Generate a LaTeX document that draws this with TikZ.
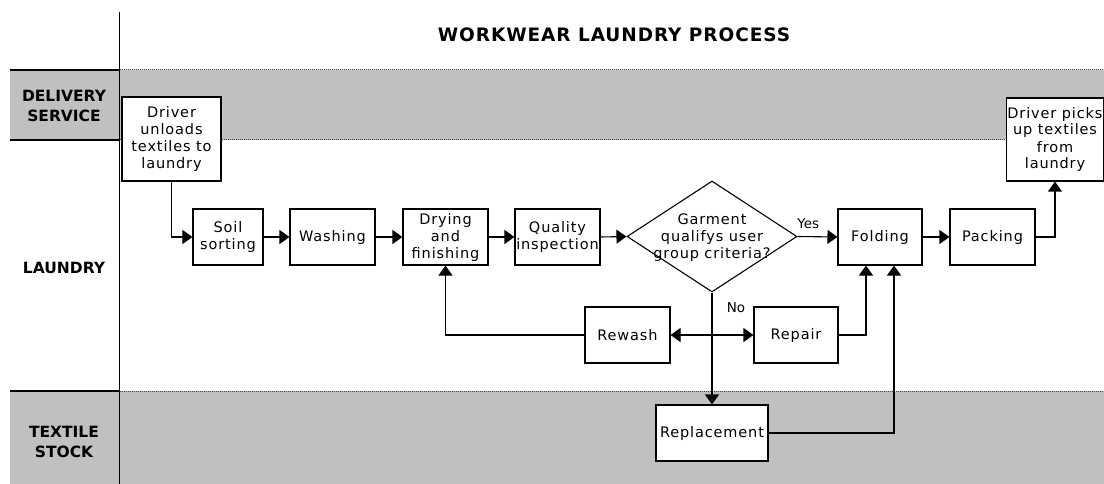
\documentclass[tikz,border=0pt]{standalone}
\usepackage{fontspec}
\setmainfont{DejaVu Sans}
\newfontfamily\bxf{DejaVu Sans}[LetterSpace=6]
\newfontfamily\ttlf{DejaVu Sans}[LetterSpace=5]
\usetikzlibrary{shapes.geometric,arrows.meta,calc}
\definecolor{bandgray}{HTML}{C0C0C0}
\begin{document}
\begin{tikzpicture}[x=1pt,y=-1pt,
  box/.style={draw, fill=white, line width=1.1pt, minimum width=85, minimum height=56,
    align=center, inner sep=0, font=\bxf\fontsize{14.5}{17}\selectfont},
  arr/.style={line width=1.1pt, -{Triangle[length=10pt,width=14pt]}},
  lanelabel/.style={align=center, font=\bfseries\fontsize{15.5}{19.5}\selectfont},
  solidline/.style={line width=1.2pt},
  dotline/.style={line width=1pt, black!75, dash pattern=on 1pt off 1pt},
  lbl/.style={font=\fontsize{13.5}{15}\selectfont, inner sep=1pt}]
\useasboundingbox (0,0) rectangle (1104,484);
% bands
\fill[bandgray] (10,70) rectangle (1104,140);
\fill[bandgray] (10,391) rectangle (1104,484);
\draw[solidline] (10,70) -- (119.5,70);
\draw[solidline] (10,140) -- (119.5,140);
\draw[solidline] (10,391) -- (119.5,391);
\draw[dotline] (119.5,70) -- (1104,70);
\draw[dotline] (119.5,140) -- (1104,140);
\draw[dotline] (119.5,391) -- (1104,391);
\draw[solidline] (119.5,12) -- (119.5,484);
% title and lane labels
\node[font=\bfseries\ttlf\fontsize{18.5}{22}\selectfont] (title) at (614,35) {WORKWEAR LAUNDRY PROCESS};
\node[lanelabel] (ldel) at (64,106) {DELIVERY\\SERVICE};
\node[lanelabel] (llau) at (64,268) {LAUNDRY};
\node[lanelabel] (ltex) at (64,442) {TEXTILE\\STOCK};
% process nodes
\node[box, minimum width=99, minimum height=84] (du) at (171.5,139) {Driver\\unloads\\textiles to\\laundry};
\node[box, minimum width=70] (ss) at (228,237) {Soil\\sorting};
\node[box] (wa) at (332.5,237) {Washing};
\node[box] (dr) at (445.5,237) {Drying\\and\\finishing};
\node[box] (qi) at (557.5,237) {Quality\\inspection};
\node[diamond, draw, fill=white, line width=1.1pt, minimum width=170, minimum height=111, inner sep=0] (dia) at (712,236.5) {};
\node[align=center, font=\bxf\fontsize{14.5}{17}\selectfont] (diat) at (712,238) {Garment\\qualifys user\\group criteria?};
\node[box, minimum width=84] (fo) at (880,237) {Folding};
\node[box] (pa) at (992.5,237) {Packing};
\node[box, minimum width=97, minimum height=83] (dp) at (1055,139.5) {Driver picks\\up textiles\\from\\laundry};
\node[box] (rw) at (627.5,335) {Rewash};
\node[box, minimum width=84] (rp) at (796,335) {Repair};
\node[box, minimum width=112] (rep) at (712,433) {Replacement};
% connectors
\draw[arr] (du.south) |- (ss.west);
\draw[arr] (ss.east) -- (wa.west);
\draw[arr] (wa.east) -- (dr.west);
\draw[arr] (dr.east) -- (qi.west);
\draw[arr] (qi.east) -- (dia.west);
\draw[arr] (dia.east) -- node[lbl, above=6pt, pos=0.27] (yes) {Yes} (fo.west);
\draw[arr] (fo.east) -- (pa.west);
\draw[arr] (pa.east) -| (dp.south);
\draw[arr] (dia.south) -- (rep.north);
\node[lbl] (no) at (736,308) {No};
\coordinate (j) at (dia.south |- rw.east);
\draw[arr] (j) -- (rw.east);
\draw[arr] (j) -- (rp.west);
\draw[arr] (rw.west) -| (dr.south);
\draw[arr] (rp.east) -| ([xshift=-14pt]fo.south);
\draw[arr] (rep.east) -| ([xshift=14pt]fo.south);
\end{tikzpicture}
\end{document}
